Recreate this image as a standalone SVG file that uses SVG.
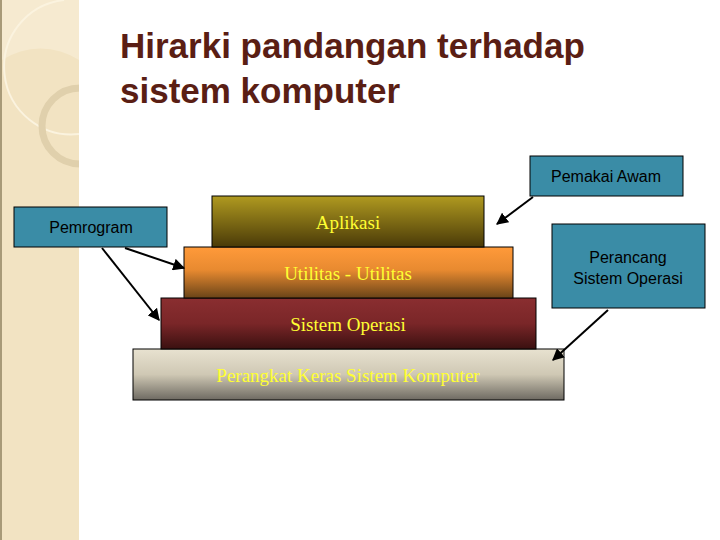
<svg xmlns="http://www.w3.org/2000/svg" width="720" height="540" viewBox="0 0 720 540">
<defs>
<linearGradient id="g1" x1="0" y1="0" x2="0" y2="1"><stop offset="0" stop-color="#b09a20"/><stop offset="1" stop-color="#4a3a08"/></linearGradient>
<linearGradient id="g2" x1="0" y1="0" x2="0" y2="1"><stop offset="0" stop-color="#ff9a3a"/><stop offset="0.45" stop-color="#e88a30"/><stop offset="1" stop-color="#6a4418"/></linearGradient>
<linearGradient id="g3" x1="0" y1="0" x2="0" y2="1"><stop offset="0" stop-color="#8a2e30"/><stop offset="0.5" stop-color="#7a2628"/><stop offset="1" stop-color="#3a1010"/></linearGradient>
<linearGradient id="g4" x1="0" y1="0" x2="0" y2="1"><stop offset="0" stop-color="#e8e2d0"/><stop offset="0.5" stop-color="#cfc8b4"/><stop offset="1" stop-color="#6e6a62"/></linearGradient>
<marker id="ah" viewBox="0 0 10 10" refX="9" refY="5" markerWidth="6" markerHeight="6" orient="auto"><path d="M0,0 L10,5 L0,10 z" fill="#000"/></marker>
</defs>
<style>
.lay{stroke:#000;stroke-width:1}
.lt{font-family:"Liberation Serif",serif;font-size:19px;fill:#ffff33;text-anchor:middle}
.box{fill:#3a8ca6;stroke:#000;stroke-width:1}
.bt{font-family:"Liberation Sans",sans-serif;font-size:16px;fill:#000;text-anchor:middle}
.c{stroke:#000;stroke-width:2;fill:none;marker-end:url(#ah)}
</style>
<rect width="720" height="540" fill="#fff"/>
<g id="decor">
<rect x="0" y="0" width="79" height="540" fill="#f2e3c2"/>
<rect x="0" y="0" width="2" height="540" fill="#a89a78"/>
<path d="M2,0 H79 V60 A70,70 0 0 0 2,60 Z" fill="#f6ead0"/>
<path d="M64,0 A67,67 0 0 0 79,134" fill="none" stroke="#fbf3df" stroke-width="2"/>
<circle cx="80" cy="126" r="38" fill="none" stroke="#e0d0ac" stroke-width="7"/>
<rect x="79" y="0" width="641" height="540" fill="#fff"/>
</g>
<text x="120" y="58" font-family="Liberation Sans,sans-serif" font-weight="bold" font-size="35" fill="#5a1e14">Hirarki pandangan terhadap</text>
<text x="120" y="103" font-family="Liberation Sans,sans-serif" font-weight="bold" font-size="35" fill="#5a1e14">sistem komputer</text>
<g id="n-hw"><rect class="lay" x="133" y="349" width="431" height="51" fill="url(#g4)"/><text class="lt" x="348" y="382">Perangkat Keras Sistem Komputer</text></g>
<g id="n-os"><rect class="lay" x="161" y="298" width="375" height="51" fill="url(#g3)"/><text class="lt" x="348" y="331">Sistem Operasi</text></g>
<g id="n-util"><rect class="lay" x="184" y="247" width="329" height="51" fill="url(#g2)"/><text class="lt" x="348" y="280">Utilitas - Utilitas</text></g>
<g id="n-app"><rect class="lay" x="212" y="196" width="272" height="51" fill="url(#g1)"/><text class="lt" x="348" y="229">Aplikasi</text></g>
<g id="n-prog"><rect class="box" x="14" y="207" width="153" height="40"/><text class="bt" x="91" y="233">Pemrogram</text></g>
<g id="n-awam"><rect class="box" x="530" y="156" width="153" height="40"/><text class="bt" x="606" y="182">Pemakai Awam</text></g>
<g id="n-peran"><rect class="box" x="552" y="224" width="153" height="84"/><text class="bt" x="628" y="263">Perancang</text><text class="bt" x="628" y="284">Sistem Operasi</text></g>
<g id="connectors">
<line class="c" x1="125" y1="248" x2="184" y2="268"/>
<line class="c" x1="102" y1="248" x2="159" y2="320"/>
<line class="c" x1="533" y1="197" x2="497" y2="224"/>
<line class="c" x1="608" y1="310" x2="553" y2="360"/>
</g>
</svg>
